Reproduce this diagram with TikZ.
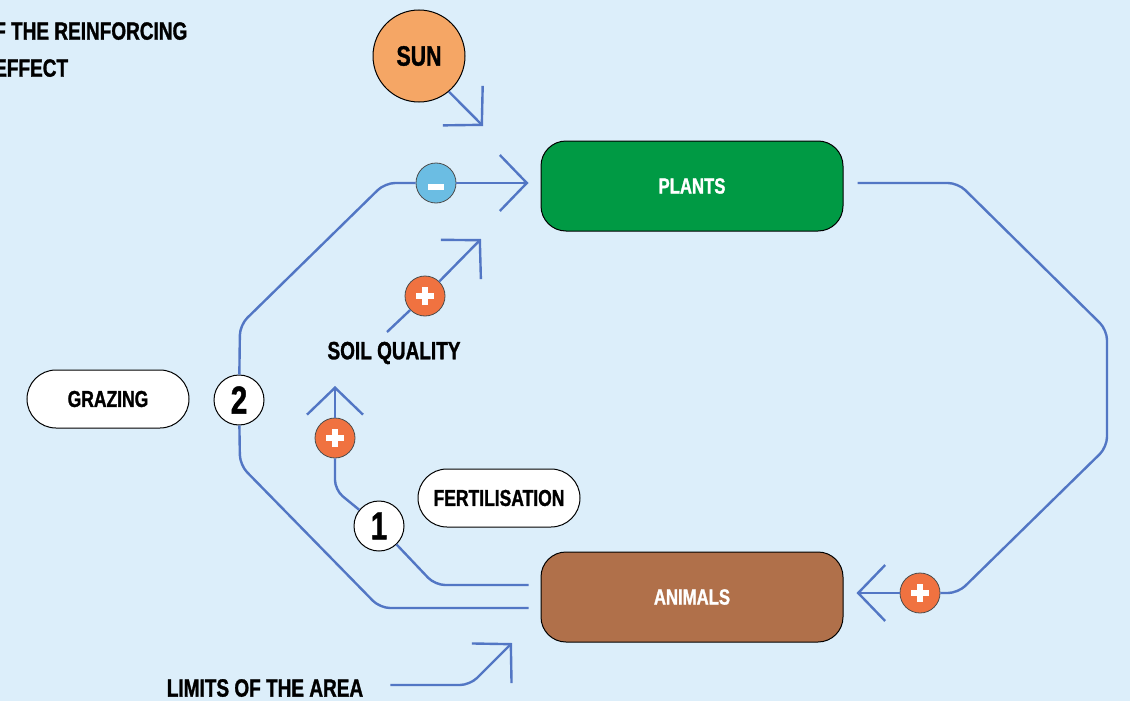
\documentclass[tikz,border=0pt]{standalone}
\usepackage{fontspec}
\setmainfont{Liberation Sans}[FakeStretch=0.76, BoldFeatures={FakeBold=1.2}]
\usetikzlibrary{arrows.meta}
\definecolor{bgblue}{RGB}{220,238,250}
\definecolor{flowblue}{RGB}{82,118,196}
\definecolor{sunorange}{RGB}{245,166,101}
\definecolor{plantgreen}{RGB}{0,154,68}
\definecolor{animalbrown}{RGB}{176,112,74}
\definecolor{plusorange}{RGB}{240,114,64}
\definecolor{minusblue}{RGB}{107,189,227}

\begin{document}
\begin{tikzpicture}[x=1pt,y=-1pt,
    every node/.style={font=\bfseries},
    flow/.style={draw=flowblue, line width=2.4pt, rounded corners=10pt},
    tip/.style={-{Straight Barb[length=27pt,width=56pt]}},
    box/.style={draw=black, line width=1pt, rounded corners=25pt, minimum width=302pt,
        minimum height=90pt, text=white, font=\bfseries\fontsize{22}{24}\selectfont},
    pill/.style={draw=black, line width=1pt, fill=white, rounded corners=29pt,
        minimum width=162pt, minimum height=58pt, font=\bfseries\fontsize{23}{26}\selectfont},
    numc/.style={circle, draw=black, line width=1pt, fill=white, minimum size=50pt,
        inner sep=0pt, font=\bfseries\fontsize{39}{40}\selectfont},
    lbl/.style={inner sep=0pt, font=\bfseries\fontsize{25}{28}\selectfont},
    plus/.style={circle, draw=gray!60!black, line width=0.8pt, fill=plusorange,
        minimum size=40pt, inner sep=0pt, path picture={
        \fill[white] ([xshift=-9pt,yshift=-2.8pt]path picture bounding box.center) rectangle ++(18pt,5.6pt);
        \fill[white] ([xshift=-2.8pt,yshift=-9pt]path picture bounding box.center) rectangle ++(5.6pt,18pt);}},
    minus/.style={circle, draw=gray!60!black, line width=0.8pt, fill=minusblue,
        minimum size=40pt, inner sep=0pt, path picture={
        \fill[white] ([xshift=-8pt,yshift=-7pt]path picture bounding box.center) rectangle ++(16pt,6pt);}}]
\useasboundingbox (0,0) rectangle (1130,701);
\fill[bgblue] (0,0) rectangle (1130,701);

% title, cut at the left edge
\node[lbl, anchor=north west, align=left, font=\bfseries\fontsize{25}{37}\selectfont] (title) at (-6,22)
    {F THE REINFORCING\\EFFECT};

% main nodes
\node[circle, draw=black, line width=1pt, fill=sunorange, minimum size=92pt,
    font=\bfseries\fontsize{28}{30}\selectfont] (sun) at (419,56) {SUN};
\node[box, fill=plantgreen] (plants) at (692,186) {PLANTS};
\node[box, fill=animalbrown] (animals) at (692,597) {ANIMALS};
\node[pill] (grazing) at (108,399) {GRAZING};
\node[numc] (n2) at (239,400) {2};
\node[pill] (fert) at (499,498) {FERTILISATION};
\node[numc] (n1) at (379,526) {1};
\node[lbl] (soil) at (394,353) {SOIL QUALITY};
\node[lbl] (limits) at (265,688) {LIMITS OF THE AREA};

% signs
\node[plus] (pA) at (920,593) {};
\node[minus] (mG) at (436,183) {};
\node[plus] (pF) at (335,438) {};
\node[plus] (pS) at (425,296) {};

% free ends
\coordinate (sunT) at (483,126);
\coordinate (fT) at (335,386);
\coordinate (sS) at (387,332);
\coordinate (sT) at (481,239);
\coordinate (lT) at (512,643);

% sun
\draw[flow, tip] (sun.-50) -- (sunT);

% plants to animals
\draw[flow] ([xshift=14pt,yshift=3pt]plants.east) -- (958,183) -- (1107,330) -- (1107,447) -- (958,593) -- (pA);
\draw[flow, tip, shorten >=13pt] (pA) -- (pA -| animals.east);

% loop 2 (grazing)
\draw[flow] ([xshift=-12pt,yshift=-11pt]animals.west) -- (380,608) -- (240,465) -- (n2);
\draw[flow] (n2) -- (240,325) -- (385,183) -- (mG);
\draw[flow, tip, shorten >=12pt] (mG) -- (mG -| plants.west);

% loop 1 (fertilisation)
\draw[flow] ([xshift=-12pt,yshift=12pt]animals.west) -- (435,585) -- (n1);
\draw[flow] (n1) -- (335,490) -- (pF);
\draw[flow, tip] (pF) -- (fT);

% soil quality
\draw[flow] (sS) -- (pS);
\draw[flow, tip] (pS) -- (sT);

% limits
\draw[flow, tip] ([xshift=27pt,yshift=3pt]limits.east) -- (470,685) -- (lT);
\end{tikzpicture}
\end{document}
